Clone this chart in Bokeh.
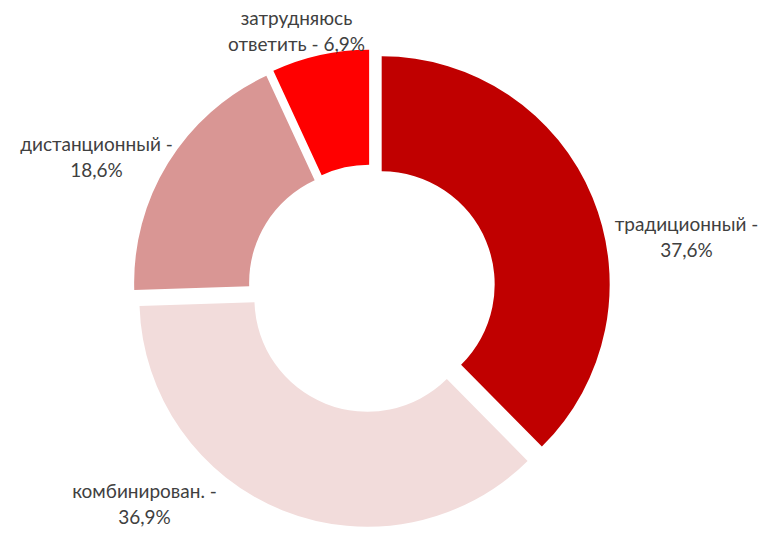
import numpy as np
from bokeh.plotting import figure
from bokeh.models import Range1d, ColumnDataSource
from bokeh.core.properties import value
from bokeh.embed import file_html
from bokeh.resources import INLINE

# ---- data ----
categories = ["традиционный", "комбинирован.", "дистанционный", "затрудняюсь ответить"]
shares = [37.6, 36.9, 18.6, 6.9]
colors = ["#C00000", "#F2DCDB", "#D99694", "#FF0000"]

# label text lines
label_lines = [
    ["традиционный -", "37,6%"],
    ["комбинирован. -", "36,9%"],
    ["дистанционный -", "18,6%"],
    ["затрудняюсь", "ответить - 6,9%"],
]

# ---- layout (pixels, canvas coordinates with y up) ----
W, H = 762, 527
CX, CY = 371, 239
R_OUT, R_IN = 228, 113
EXPLODE = 11
LINE_GAP = 26
label_anchor = [(686, 291), (144, 24), (96, 371), (296, 497)]

p = figure(width=W, height=H, output_backend="svg", toolbar_location=None,
           x_range=Range1d(0, W), y_range=Range1d(0, H), min_border=0)
p.axis.visible = False
p.grid.visible = False
p.outline_line_color = None
p.background_fill_color = "white"
p.border_fill_color = "white"

vals = np.array(shares, dtype=float)
frac = vals / vals.sum()
cum = np.concatenate([[0.0], np.cumsum(frac)])
start = np.pi / 2 - 2 * np.pi * cum[1:]
end = np.pi / 2 - 2 * np.pi * cum[:-1]
mid = (start + end) / 2
xs = CX + EXPLODE * np.cos(mid)
ys = CY + EXPLODE * np.sin(mid)

src = ColumnDataSource(dict(x=xs, y=ys, start=start, end=end, color=colors, cat=categories))
p.annular_wedge(x="x", y="y", inner_radius=R_IN, outer_radius=R_OUT,
                start_angle="start", end_angle="end", fill_color="color",
                line_color=None, source=src,
                inner_radius_units="screen", outer_radius_units="screen")

tx, ty, tt = [], [], []
for (ax, ay), lines in zip(label_anchor, label_lines):
    n = len(lines)
    for i, t in enumerate(lines):
        tx.append(ax)
        ty.append(ay + (n - 1) * LINE_GAP / 2 - i * LINE_GAP)
        tt.append(t)

p.text(x=tx, y=ty, text=tt, text_align="center", text_baseline="middle",
       text_font=value("Lato"), text_font_size="19px", text_color="#404040")

open("out.html", "w").write(file_html(p, INLINE))
